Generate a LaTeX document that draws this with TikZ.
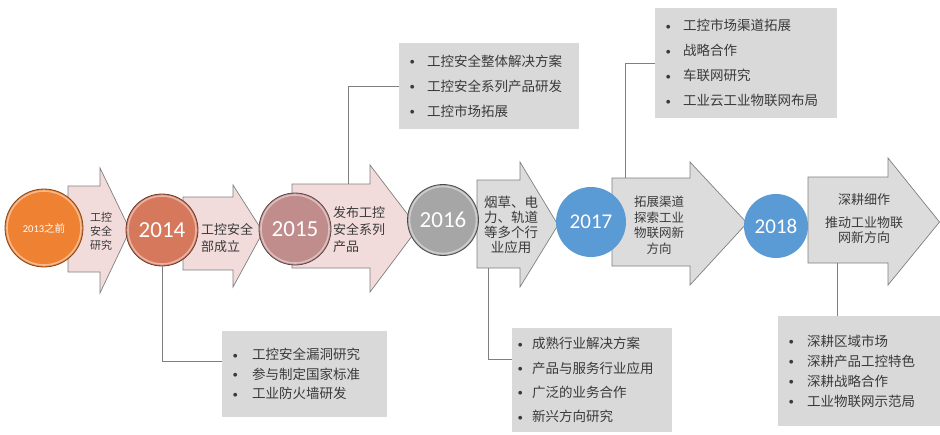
\documentclass[tikz,border=0pt]{standalone}
\usepackage{fontspec}
\setmainfont{Noto Sans CJK SC}
\newfontfamily\numfont{Carlito}
\newfontfamily\dvfont{DejaVu Sans}
\definecolor{pinkfill}{HTML}{F2DCDB}
\definecolor{grayfill}{HTML}{DCDCDC}
\definecolor{boxgray}{HTML}{D9D9D9}
\definecolor{edgegray}{HTML}{7F7F7F}
\definecolor{txtgray}{HTML}{3A3A3A}
\definecolor{cA}{HTML}{EF8133}
\definecolor{cB}{HTML}{D6785C}
\definecolor{cC}{HTML}{C08C8C}
\definecolor{cD}{HTML}{A6A6A6}
\definecolor{cE}{HTML}{5B9BD5}
\newcommand{\bl}[1]{\makebox[#1][l]{\raisebox{2.5pt}{\dvfont\fontsize{5}{5}\selectfont ●}}}
\begin{document}
\begin{tikzpicture}[x=1pt,y=-1pt,
  arrowpink/.style={fill=pinkfill,draw=edgegray,line width=0.7pt,line join=miter},
  arrowgray/.style={fill=grayfill,draw=edgegray,line width=0.7pt,line join=miter},
  yr/.style={circle,inner sep=0pt,text=white,font=\numfont\fontsize{23}{23}\selectfont},
  bevel/.style={white,opacity=.45,line width=1.6pt},
  lbl/.style={inner sep=0pt,text=txtgray},
  infobox/.style={fill=boxgray,anchor=north west,align=left,inner ysep=0pt,text=txtgray,
     font=\fontsize{13.5}{19.5}\selectfont},
  conn/.style={draw=edgegray,line width=0.7pt}]
\useasboundingbox (0,0) rectangle (940,434);

% arrows
\draw[arrowpink] (68,186) -- (100,186) -- (100,168) -- (130,230) -- (100,293) -- (100,272) -- (68,272) -- cycle;
\draw[arrowpink] (183,197) -- (233,197) -- (233,185) -- (263,232) -- (233,287) -- (233,270) -- (183,270) -- cycle;
\draw[arrowpink] (292,184) -- (370,184) -- (370,165) -- (418,228) -- (370,292) -- (370,268) -- (292,268) -- cycle;
\draw[arrowgray] (477,180) -- (520,180) -- (520,162) -- (558,225) -- (520,287) -- (520,268) -- (477,268) -- cycle;
\draw[arrowgray] (612,178) -- (690,178) -- (690,162) -- (747,223) -- (690,285) -- (690,266) -- (612,266) -- cycle;
\draw[arrowgray] (808,177) -- (888,177) -- (888,158) -- (939.5,222) -- (888,285) -- (888,263) -- (808,263) -- cycle;
\coordinate (a3top) at (348,184);
\coordinate (a4bot) at (488,268);
\coordinate (a5top) at (625,178);
\coordinate (a6bot) at (837,263);

% circles
\node[yr,fill=cA,draw=cA!55!black,line width=0.8pt,minimum size=78pt,font=\numfont\fontsize{10.5}{10.5}\selectfont] (c2013) at (44,228) {2013\fontspec{Noto Sans CJK SC}之前};
\draw[bevel] (c2013.center) circle (37);
\node[yr,fill=cB,draw=cB!50!black,line width=0.8pt,minimum size=72pt] (c2014) at (162,230) {2014};
\draw[bevel] (c2014.center) circle (34);
\node[yr,fill=cC,draw=cC!50!black,line width=0.8pt,minimum size=72pt] (c2015) at (295,229) {2015};
\draw[bevel] (c2015.center) circle (34);
\node[yr,fill=cD,draw=cD!45!black,line width=0.8pt,minimum size=71pt] (c2016) at (443,220) {2016};
\draw[bevel] (c2016.center) circle (33.5);
\node[yr,fill=cE,minimum size=70pt,font=\numfont\fontsize{21}{21}\selectfont] (c2017) at (591,222) {2017};
\node[yr,fill=cE,minimum size=64pt,font=\numfont\fontsize{21}{21}\selectfont] (c2018) at (776,226) {2018};

% arrow texts
\node[lbl,align=center,font=\fontsize{11}{14}\selectfont] (t1) at (101,231) {工控\\安全\\研究};
\node[lbl,align=left,anchor=west,font=\fontsize{13}{17}\selectfont] (t2) at (201,238) {工控安全\\部成立};
\node[lbl,align=left,anchor=west,font=\fontsize{13}{17}\selectfont] (t3) at (333,230) {发布工控\\安全系列\\产品};
\node[lbl,align=center,font=\fontsize{13.5}{15}\selectfont] (t4) at (511,225) {烟草、电\\力、轨道\\等多个行\\业应用};
\node[lbl,align=center,font=\fontsize{12.5}{15.5}\selectfont] (t5) at (659,225) {拓展渠道\\探索工业\\物联网新\\方向};
\node[lbl,align=center,font=\fontsize{13}{15}\selectfont] (t6) at (864,219) {深耕细作\\[8pt]推动工业物联\\网新方向};

% info boxes
\node[infobox,minimum width=165pt,minimum height=86pt,text width=143pt,inner xsep=11pt] (boxA) at (222,331)
  {\bl{19pt}工控安全漏洞研究\\\bl{19pt}参与制定国家标准\\\bl{19pt}工业防火墙研发};
\node[infobox,minimum width=180pt,minimum height=86pt,text width=158pt,inner xsep=11pt,
  font=\fontsize{13.5}{25}\selectfont] (boxB) at (399,43)
  {\bl{17pt}工控安全整体解决方案\\\bl{17pt}工控安全系列产品研发\\\bl{17pt}工控市场拓展};
\node[infobox,minimum width=160pt,minimum height=104pt,text width=148pt,inner xsep=6pt,
  font=\fontsize{13.5}{24.3}\selectfont] (boxC) at (512,328)
  {\bl{14pt}成熟行业解决方案\\\bl{14pt}产品与服务行业应用\\\bl{14pt}广泛的业务合作\\\bl{14pt}新兴方向研究};
\node[infobox,minimum width=182pt,minimum height=110pt,text width=160pt,inner xsep=11pt,
  font=\fontsize{13.5}{25}\selectfont] (boxD) at (655,8)
  {\bl{17pt}工控市场渠道拓展\\\bl{17pt}战略合作\\\bl{17pt}车联网研究\\\bl{17pt}工业云工业物联网布局};
\node[infobox,minimum width=162pt,minimum height=110pt,text width=140pt,inner xsep=11pt,
  font=\fontsize{13.5}{20}\selectfont] (boxE) at (778,316)
  {\bl{18pt}深耕区域市场\\\bl{18pt}深耕产品工控特色\\\bl{18pt}深耕战略合作\\\bl{18pt}工业物联网示范局};

% connectors
\draw[conn] (c2014.south) |- ([yshift=-30pt]boxA.north west);
\draw[conn] (a3top) |- (boxB.west);
\draw[conn] (a4bot) |- ([yshift=-31pt]boxC.north west);
\draw[conn] (a5top) |- (boxD.west);
\draw[conn] (a6bot) -- (a6bot |- boxE.north);
\end{tikzpicture}
\end{document}
